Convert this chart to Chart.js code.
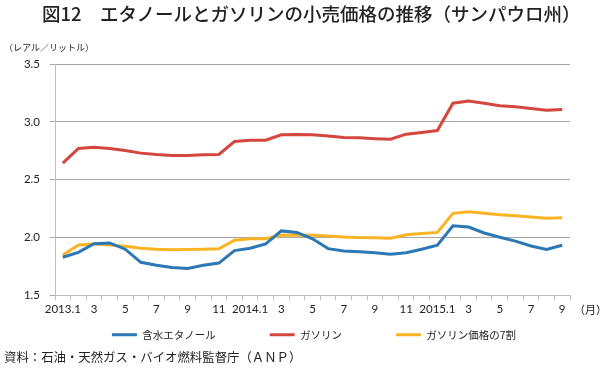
<!DOCTYPE html>
<html><head><meta charset="utf-8">
<script src="https://cdn.jsdelivr.net/npm/chart.js@4/dist/chart.umd.min.js"></script>
<style>
html,body{margin:0;padding:0;background:#fff;}
#wrap{position:relative;width:600px;height:380px;overflow:hidden;font-family:"Noto Sans CJK JP",sans-serif;color:#222;}
#c{position:absolute;left:0;top:0;}
.t{position:absolute;white-space:nowrap;}
#title{left:42px;top:0px;font-size:18.5px;font-weight:500;letter-spacing:0px;}
#unit{left:4px;top:41px;font-size:9px;}
#month{left:574px;top:301px;font-size:11px;}
#src{left:4px;top:348px;font-size:12.4px;}
</style></head><body>
<div id="wrap">
<canvas id="c" width="600" height="380"></canvas>
<div class="t" id="title">図12　エタノールとガソリンの小売価格の推移（サンパウロ州）</div>
<div class="t" id="unit">（レアル／リットル）</div>
<div class="t" id="month">（月）</div>
<div class="t" id="src">資料：石油・天然ガス・バイオ燃料監督庁（ＡＮＰ）</div>
</div>
<script>
const months = ['2013.1','','3','','5','','7','','9','','11','',
                '2014.1','','3','','5','','7','','9','','11','',
                '2015.1','','3','','5','','7','','9'];
const ethanol = [1.83,1.873,1.948,1.954,1.90,1.787,1.761,1.741,1.733,1.761,1.78,1.888,
                 1.908,1.946,2.058,2.045,1.99,1.905,1.885,1.877,1.87,1.856,1.87,1.90,
                 1.934,2.103,2.092,2.04,2.003,1.97,1.928,1.897,1.934];
const gasoline = [2.644,2.77,2.78,2.77,2.753,2.73,2.718,2.71,2.71,2.716,2.718,2.83,
                  2.842,2.842,2.888,2.892,2.888,2.877,2.865,2.862,2.855,2.85,2.894,2.908,
                  2.925,3.161,3.18,3.16,3.14,3.13,3.115,3.10,3.106];
const gasoline70 = [1.85,1.937,1.945,1.937,1.925,1.908,1.90,1.896,1.897,1.90,1.903,1.977,
                    1.99,1.99,2.02,2.023,2.02,2.014,2.005,2.0,1.998,1.995,2.025,2.035,
                    2.045,2.21,2.224,2.21,2.198,2.19,2.178,2.167,2.172];
const seriesNames = ['含水エタノール','ガソリン','ガソリン価格の7割'];
const yTicks = {min:1.5, max:3.5, step:0.5};

const numFont = {family:'Lato, "Liberation Sans", sans-serif', size:11.5};
const legendGap = '\u3000\u3000\u3000\u3000';
new Chart(document.getElementById('c'), {
  type:'line',
  data:{
    labels:months,
    datasets:[
      {label:seriesNames[0], data:ethanol, borderColor:'#2C77B5', backgroundColor:'#2C77B5'},
      {label:seriesNames[1], data:gasoline, borderColor:'#D4463E', backgroundColor:'#D4463E'},
      {label:seriesNames[2], data:gasoline70, borderColor:'#FCB424', backgroundColor:'#FCB424'}
    ]
  },
  options:{
    responsive:false, animation:false,
    layout:{padding:{left:0,right:30,top:64,bottom:30}},
    elements:{line:{borderWidth:3,tension:0,borderCapStyle:'butt'},point:{radius:0}},
    plugins:{
      legend:{position:'bottom', align:'end',
        labels:{boxWidth:25,boxHeight:3,padding:12,color:'#222',
          font:{family:'"Noto Sans CJK JP", sans-serif',size:10.5},
          generateLabels:(chart)=>{
            const items = Chart.defaults.plugins.legend.labels.generateLabels(chart);
            items.forEach(it=>{ it.text = it.text + legendGap; it.lineWidth = 0; });
            return items;
          }}},
      tooltip:{enabled:false}
    },
    scales:{
      x:{
        offset:true,
        grid:{offset:true,drawOnChartArea:false,drawTicks:true,tickLength:5,color:'#bfbfbf'},
        border:{color:'#bfbfbf',width:1},
        ticks:{autoSkip:false,maxRotation:0,minRotation:0,color:'#222',font:numFont,padding:2},
        afterFit:(s)=>{s.height=22;}
      },
      y:{
        min:yTicks.min,max:yTicks.max,
        grid:{color:'#a6a6a6',tickLength:5,drawTicks:true},
        border:{color:'#bfbfbf',width:1},
        ticks:{stepSize:yTicks.step,color:'#222',font:numFont,padding:10,
          callback:(v)=>Number(v).toFixed(1)},
        afterFit:(s)=>{s.width=55;}
      }
    }
  }
});
</script>
</body></html>
